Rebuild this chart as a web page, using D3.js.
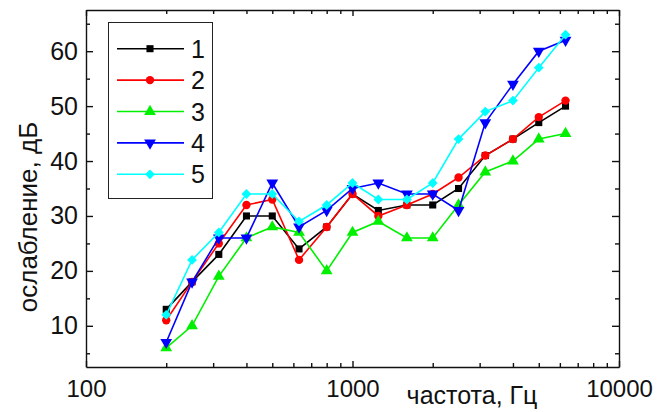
<!DOCTYPE html>
<html>
<head>
<meta charset="utf-8">
<script src="https://d3js.org/d3.v7.min.js"></script>
<style>
	body { margin: 0; background: #fff; }
	svg text { font-family: "Liberation Sans", Arial, sans-serif; fill: #111; }
	.axis path, .axis line { stroke: #111; stroke-width: 1.4; }
</style>
</head>
<body>
<svg id="chart"></svg>
<script>
// Frequencies, Hz (third-octave bands)
const frequencies = [200, 250, 315, 400, 500, 630, 800, 1000, 1250, 1600, 2000, 2500, 3150, 4000, 5000, 6300];

// Attenuation, dB
const series1 = [13, 18, 23, 30, 30, 24, 28, 34, 31, 32, 32, 35, 41, 44, 47, 50];
const series2 = [11, 18, 25, 32, 33, 22, 28, 34, 30, 32, 34, 37, 41, 44, 48, 51];
const series3 = [6, 10, 19, 26, 28, 27, 20, 27, 29, 26, 26, 32, 38, 40, 44, 45];
const series4 = [7, 18, 26, 26, 36, 28, 31, 35, 36, 34, 34, 31, 47, 54, 60, 62];
const series5 = [12, 22, 27, 34, 34, 29, 32, 36, 33, 33, 36, 44, 49, 51, 57, 63];

const seriesNames = ["1", "2", "3", "4", "5"];
const xMajorTicks = [100, 1000, 10000];
const yMajorTicks = [10, 20, 30, 40, 50, 60];

const WIDTH = 657, HEIGHT = 412;
const MARGIN = {top: 10, right: 38, bottom: 45, left: 86};
const CHART_WIDTH = WIDTH - MARGIN.left - MARGIN.right;
const CHART_HEIGHT = HEIGHT - MARGIN.top - MARGIN.bottom;

const colors = ["#000000", "#ff0000", "#00f000", "#0000ff", "#00ffff"];
// diamond = square turned by 45 degrees
const symbols = [d3.symbolSquare, d3.symbolCircle, d3.symbolTriangle, d3.symbolTriangle, d3.symbolSquare];
const symbolSizes = [50, 55, 60, 60, 48];
const rotations = [0, 0, 0, 180, 45];

const allSeries = [series1, series2, series3, series4, series5].map((vals, i) => ({
	name: seriesNames[i],
	points: vals.map((v, j) => ({f: frequencies[j], v: v}))
}));

const xScale = d3.scaleLog().domain([100, 10000]).range([0, CHART_WIDTH]);
const yScale = d3.scaleLinear().domain([2.5, 67.5]).range([CHART_HEIGHT, 0]);

const svg = d3.select("#chart").attr("width", WIDTH).attr("height", HEIGHT);
const chart = svg.append("g").attr("transform", `translate(${MARGIN.left}, ${MARGIN.top})`);

// minor ticks on log axis: 2..9 of each decade
const xMinor = [];
[100, 1000].forEach(d => { for (let k = 2; k <= 9; k++) xMinor.push(d * k); });
const yMinor = [5, 15, 25, 35, 45, 55, 65];

// Frame: bottom / top
chart.append("g").attr("class", "axis")
	.attr("transform", `translate(0, ${CHART_HEIGHT})`)
	.call(d3.axisBottom(xScale).tickValues(xMajorTicks).tickFormat(d3.format("d")).tickSizeInner(-6).tickSizeOuter(0).tickPadding(13))
	.call(g => g.selectAll("text").style("font-size", "24px"));
chart.append("g").attr("class", "axis")
	.attr("transform", `translate(0, ${CHART_HEIGHT})`)
	.call(d3.axisBottom(xScale).tickValues(xMinor).tickFormat("").tickSizeInner(-4).tickSizeOuter(0))
	.call(g => g.select(".domain").remove());
chart.append("g").attr("class", "axis")
	.call(d3.axisTop(xScale).tickValues(xMajorTicks).tickFormat("").tickSizeInner(-6).tickSizeOuter(0));
chart.append("g").attr("class", "axis")
	.call(d3.axisTop(xScale).tickValues(xMinor).tickFormat("").tickSizeInner(-4).tickSizeOuter(0))
	.call(g => g.select(".domain").remove());

// Frame: left / right
chart.append("g").attr("class", "axis")
	.call(d3.axisLeft(yScale).tickValues(yMajorTicks).tickSizeInner(-7).tickSizeOuter(0).tickPadding(8))
	.call(g => g.selectAll("text").style("font-size", "25px"));
chart.append("g").attr("class", "axis")
	.call(d3.axisLeft(yScale).tickValues(yMinor).tickFormat("").tickSizeInner(-4).tickSizeOuter(0))
	.call(g => g.select(".domain").remove());
chart.append("g").attr("class", "axis")
	.attr("transform", `translate(${CHART_WIDTH}, 0)`)
	.call(d3.axisRight(yScale).tickValues(yMajorTicks).tickFormat("").tickSizeInner(-7).tickSizeOuter(0));
chart.append("g").attr("class", "axis")
	.attr("transform", `translate(${CHART_WIDTH}, 0)`)
	.call(d3.axisRight(yScale).tickValues(yMinor).tickFormat("").tickSizeInner(-4).tickSizeOuter(0))
	.call(g => g.select(".domain").remove());

// Axis titles
svg.append("text")
	.attr("x", 472).attr("y", 404)
	.style("font-size", "25px")
	.style("text-anchor", "middle")
	.text("частота, Гц");

svg.append("text")
	.attr("transform", `translate(37, 217) rotate(-90)`)
	.style("font-size", "26px")
	.style("text-anchor", "middle")
	.text("ослабление, дБ");

// Lines and markers
const line = d3.line().x(d => xScale(d.f)).y(d => yScale(d.v));

allSeries.forEach((s, i) => {
	const g = chart.append("g");
	g.append("path")
		.datum(s.points)
		.attr("fill", "none")
		.attr("stroke", colors[i])
		.attr("stroke-width", 1.6)
		.attr("d", line);
	g.selectAll("path.marker")
		.data(s.points)
		.enter()
		.append("path")
		.attr("class", "marker")
		.attr("d", d3.symbol().type(symbols[i]).size(symbolSizes[i]))
		.attr("fill", colors[i])
		.attr("transform", d => `translate(${xScale(d.f)}, ${yScale(d.v)}) rotate(${rotations[i]})`);
});

// Legend
const legend = svg.append("g");
legend.append("rect")
	.attr("x", 108.5).attr("y", 22.5)
	.attr("width", 104).attr("height", 176)
	.attr("fill", "#fff")
	.attr("stroke", "#222")
	.attr("stroke-width", 1);

allSeries.forEach((s, i) => {
	const y = 48.7 + i * 31.4;
	legend.append("line")
		.attr("x1", 117).attr("x2", 184)
		.attr("y1", y).attr("y2", y)
		.attr("stroke", colors[i])
		.attr("stroke-width", 1.6);
	legend.append("path")
		.attr("d", d3.symbol().type(symbols[i]).size(symbolSizes[i])())
		.attr("fill", colors[i])
		.attr("transform", `translate(150, ${y}) rotate(${rotations[i]})`);
	legend.append("text")
		.attr("x", 191).attr("y", y + 9)
		.style("font-size", "25px")
		.text(s.name);
});
</script>
</body>
</html>
